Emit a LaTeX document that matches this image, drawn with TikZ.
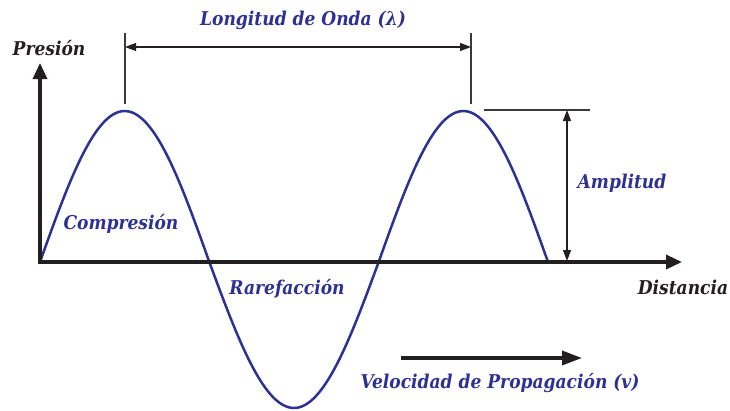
\documentclass[tikz,border=0pt]{standalone}
\usepackage{fontspec}
\setmainfont{DejaVu Serif Condensed}
\usetikzlibrary{arrows.meta}
\definecolor{wblue}{HTML}{2E3192}
\definecolor{wblack}{HTML}{231F20}
\definecolor{wgray}{HTML}{3A3A3A}
\tikzset{
  lbl/.style={font=\fontsize{19}{23}\selectfont\bfseries\itshape, inner sep=0pt},
  bluelbl/.style={lbl, text=wblue},
  blacklbl/.style={lbl, text=wblack},
  axisline/.style={draw=wblack, line width=3.4pt, -{Triangle[length=16pt,width=14pt]}},
  waveline/.style={draw=wblue, line width=2.5pt},
  thinline/.style={draw=wgray, line width=1.1pt},
  dimarrow/.style={draw=wblack, line width=1.1pt, {Triangle[length=11pt,width=8pt]}-{Triangle[length=11pt,width=8pt]}},
}
\begin{document}
\begin{tikzpicture}[x=1pt,y=-1pt]
\useasboundingbox (0,0) rectangle (730,410);
% coordinates
\coordinate (O) at (40,262);
\coordinate (Ytop) at (40,63);
\coordinate (Xend) at (682,262);
\coordinate (L1b) at (125,104);
\coordinate (L1t) at (125,33);
\coordinate (L2b) at (471,104);
\coordinate (L2t) at (471,33);
\coordinate (LA) at (125,47);
\coordinate (LB) at (471,47);
\coordinate (AL) at (484,110);
\coordinate (AR) at (590,110);
\coordinate (Atop) at (567,110);
\coordinate (Abot) at (567,261);
\coordinate (V1) at (401,358);
\coordinate (V2) at (582,358);
% wave
\draw[waveline, line join=round] plot[domain=40:548, samples=160, smooth]
  (\x, {262 - (sin((\x-40)/169.33*180) > 0 ? 151 : 146)*sin((\x-40)/169.33*180)});
% axes
\draw[axisline] (O) -- (Ytop);
\draw[axisline] ([xshift=-1.7pt]O) -- (Xend);
% wavelength
\draw[thinline] (L1b) -- (L1t);
\draw[thinline] (L2b) -- (L2t);
\draw[dimarrow] (LA) -- (LB);
% amplitude
\draw[thinline] (AL) -- (AR);
\draw[dimarrow] (Atop) -- (Abot);
% velocity
\draw[axisline, -{Triangle[length=20pt,width=14pt]}] (V1) -- (V2);
% labels
\node[bluelbl] (lon) at (303,20) {Longitud de Onda (λ)};
\node[blacklbl] (pre) at (49,48) {Presión};
\node[bluelbl] (com) at (121,224) {Compresión};
\node[bluelbl] (rar) at (287,289) {Rarefacción};
\node[bluelbl] (amp) at (622,183) {Amplitud};
\node[blacklbl] (dis) at (683,287) {Distancia};
\node[bluelbl] (vel) at (500,383) {Velocidad de Propagación (v)};
\end{tikzpicture}
\end{document}
